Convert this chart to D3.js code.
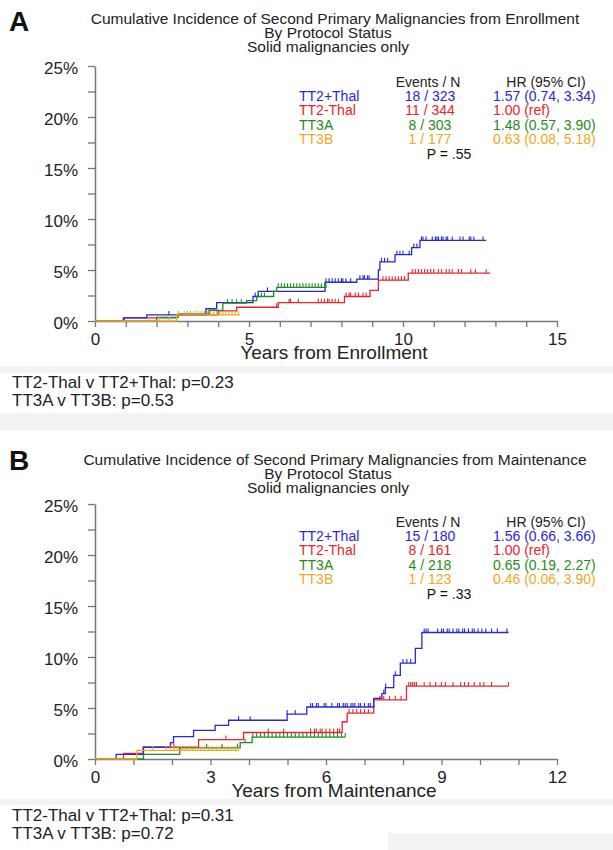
<!DOCTYPE html>
<html>
<head>
<meta charset="utf-8">
<script src="https://cdn.jsdelivr.net/npm/d3@7"></script>
<style>
  body { margin: 0; background: #fff; }
  svg { display: block; font-family: "Liberation Sans", Arial, sans-serif; }
</style>
</head>
<body>
<svg id="chart" width="613" height="850"></svg>
<script>
// groups + colours (same for both panels)
const groups = ['TT2+Thal', 'TT2-Thal', 'TT3A', 'TT3B'];
const colors = ['#2626dc', '#e8242c', '#1f8a22', '#f5a623'];
const yTicks = [0, 2.5, 5, 7.5, 10, 12.5, 15, 17.5, 20, 22.5, 25];
const yLabels = [0, 5, 10, 15, 20, 25];

// ---- panel A : from enrollment ----
const enrollTitle = ['Cumulative Incidence of Second Primary Malignancies from Enrollment', 'By Protocol Status', 'Solid malignancies only'];
const enrollEvents = ['18 / 323', '11 / 344', '8 / 303', '1 / 177'];
const enrollHR = ['1.57 (0.74, 3.34)', '1.00 (ref)', '1.48 (0.57, 3.90)', '0.63 (0.08, 5.18)'];
const enrollP = 'P = .55';
const enrollXTicks = [0, 1, 2, 3, 4, 5, 6, 7, 8, 9, 10, 11, 12, 13, 14, 15];
const enrollXLabels = [0, 5, 10, 15];
const enrollNotes = ['TT2-Thal v TT2+Thal: p=0.23', 'TT3A v TT3B: p=0.53'];

// steps: [years, cumulative %]
const enrollBlue = [[0, 0], [0.92, 0.3], [1.68, 0.6], [3.6, 1.2], [3.95, 1.8], [5.13, 2.4], [5.3, 2.9], [7.47, 3.8], [8.5, 4.1], [9.2, 5.0], [9.25, 5.8], [9.74, 6.5], [10.28, 7.2], [10.55, 7.9]];
const enrollRed = [[0, 0], [0.95, 0.3], [2.65, 0.6], [4.0, 1.0], [4.6, 1.35], [5.95, 1.8], [8.1, 2.4], [8.93, 3.0], [9.2, 4.0], [10.17, 4.7]];
const enrollGreen = [[0, 0], [2.0, 0.35], [2.7, 0.7], [3.7, 1.05], [4.15, 1.75], [4.92, 2.0], [5.25, 2.4], [5.8, 2.9], [5.9, 3.3]];
const enrollOrange = [[0, 0], [2.65, 0.6]];
const enrollEnd = [12.7, 12.83, 7.52, 4.7];

// censor marks (years)
const enrollBlueCens = [2.4, 5.2, 5.6, 7.5, 7.6, 7.7, 7.8, 7.9, 8.0, 8.05, 8.15, 8.3, 8.6, 8.7, 8.75, 8.85, 8.9, 9.3, 9.4, 9.5, 9.8, 9.9, 10.0, 10.2, 10.35, 10.45, 10.6, 10.65, 10.75, 10.95, 11.05, 11.1, 11.15, 11.25, 11.3, 11.4, 11.45, 11.6, 11.85, 11.95, 12.15, 12.2, 12.3, 12.6];
const enrollRedCens = [5.9, 6.3, 6.35, 6.6, 7.25, 7.35, 7.45, 7.55, 7.6, 7.7, 7.8, 7.9, 8.15, 8.25, 8.3, 8.45, 8.55, 8.7, 8.8, 9.35, 9.45, 9.55, 9.65, 9.75, 9.85, 9.95, 10.05, 10.3, 10.4, 10.5, 10.6, 10.7, 10.8, 10.9, 11.0, 11.15, 11.25, 11.4, 11.5, 11.6, 11.8, 11.9, 12.2, 12.35, 12.7];
const enrollGreenCens = [4.3, 4.45, 4.6, 4.75, 5.4, 5.5, 5.95, 6.05, 6.15, 6.25, 6.35, 6.45, 6.55, 6.65, 6.75, 6.85, 6.95, 7.05, 7.15, 7.25, 7.35, 7.45, 7.5];
const enrollOrangeCens = [2.1, 2.4, 2.7, 2.9, 3.0, 3.1, 3.25, 3.35, 3.45, 3.55, 3.65, 3.75, 3.85, 3.95, 4.05, 4.15, 4.25, 4.35, 4.45, 4.55, 4.65];

// ---- panel B : from maintenance ----
const maintTitle = ['Cumulative Incidence of Second Primary Malignancies from Maintenance', 'By Protocol Status', 'Solid malignancies only'];
const maintEvents = ['15 / 180', '8 / 161', '4 / 218', '1 / 123'];
const maintHR = ['1.56 (0.66, 3.66)', '1.00 (ref)', '0.65 (0.19, 2.27)', '0.46 (0.06, 3.90)'];
const maintP = 'P = .33';
const maintXTicks = [0, 1, 2, 3, 4, 5, 6, 7, 8, 9, 10, 11, 12];
const maintXLabels = [0, 3, 6, 9, 12];
const maintNotes = ['TT2-Thal v TT2+Thal: p=0.31', 'TT3A v TT3B: p=0.72'];

const maintBlue = [[0, 0], [0.55, 0.45], [1.26, 1.15], [1.96, 1.6], [2.04, 2.2], [2.56, 2.8], [3.12, 3.3], [3.47, 3.8], [4.99, 4.4], [5.5, 5.1], [7.24, 5.95], [7.45, 6.4], [7.54, 7.0], [7.76, 8.2], [7.93, 9.4], [8.32, 10.85], [8.49, 12.4]];
const maintRed = [[0, 0], [0.74, 0.55], [1.25, 1.15], [2.69, 1.9], [3.86, 2.6], [6.42, 3.65], [6.55, 4.5], [7.24, 5.8], [8.09, 7.15]];
const maintGreen = [[0, 0], [1.26, 0.45], [2.2, 1.1], [3.77, 1.6], [4.08, 2.15]];
const maintOrange = [[0, 0], [1.09, 0.85]];
const maintEnd = [10.74, 10.74, 6.5, 3.73];

const maintBlueCens = [3.73, 4.03, 4.99, 5.2, 5.6, 5.65, 5.75, 5.8, 5.95, 6.0, 6.15, 6.3, 6.35, 6.45, 6.5, 6.55, 6.65, 6.7, 6.75, 6.85, 6.9, 7.0, 7.1, 7.15, 7.5, 7.55, 7.8, 8.0, 8.1, 8.2, 8.55, 8.6, 8.65, 8.9, 9.0, 9.05, 9.15, 9.2, 9.3, 9.4, 9.45, 9.55, 9.6, 9.7, 9.8, 9.85, 9.95, 10.05, 10.15, 10.3, 10.45, 10.7];
const maintRedCens = [2.05, 3.4, 4.5, 4.9, 5.6, 5.7, 5.75, 5.85, 5.9, 6.0, 6.1, 6.2, 6.3, 6.35, 6.6, 6.7, 6.8, 6.9, 7.0, 7.1, 7.4, 7.5, 7.65, 7.8, 7.95, 8.15, 8.2, 8.25, 8.3, 8.35, 8.55, 8.7, 8.85, 9.0, 9.1, 9.3, 9.5, 9.6, 9.7, 9.85, 10.0, 10.1, 10.3, 10.74];
const maintGreenCens = [2.9, 3.3, 3.7, 3.9, 4.1, 4.2, 4.3, 4.4, 4.5, 4.6, 4.7, 4.8, 4.9, 5.0, 5.1, 5.2, 5.3, 5.4, 5.5, 5.6, 5.7, 5.8, 5.9, 6.0, 6.1, 6.2, 6.3, 6.4, 6.5];
const maintOrangeCens = [1.5, 1.85, 1.95, 2.05, 2.15, 2.25, 2.35, 2.45, 2.55, 2.65, 2.75, 2.85, 2.95, 3.05, 3.15, 3.25, 3.35, 3.45, 3.55, 3.65, 3.73];

const svg = d3.select('#chart');

// faint grey scan bands from the original figure
const bands = [[0, 366, 613, 7], [0, 413, 613, 17], [0, 799, 613, 6], [388, 833, 225, 17]];
svg.selectAll('rect.band').data(bands).join('rect')
  .attr('class', 'band')
  .attr('x', d => d[0]).attr('y', d => d[1])
  .attr('width', d => d[2]).attr('height', d => d[3])
  .attr('fill', '#f3f3f3');

function levelAt(steps, t) {
  let v = 0;
  steps.forEach(s => { if (s[0] <= t) v = s[1]; });
  return v;
}

function drawPanel(p) {
  const x = d3.scaleLinear().domain([0, p.xMax]).range([95, 557]);
  const y = d3.scaleLinear().domain([0, 25]).range([p.y0, p.y0 - 255]);
  const g = svg.append('g');

  g.append('text')
    .attr('x', 9).attr('y', p.letterY)
    .attr('font-size', 28).attr('font-weight', 'bold').attr('fill', '#111')
    .text(p.letter);

  p.title.forEach((t, i) => {
    g.append('text')
      .attr('x', i === 0 ? 335 : 328)
      .attr('y', p.titleY + i * 14)
      .attr('text-anchor', 'middle')
      .attr('font-size', 15.5).attr('fill', '#222')
      .text(t);
  });

  // y axis
  const yAxis = g.append('g')
    .attr('transform', 'translate(95,0)')
    .call(d3.axisLeft(y).tickValues(yTicks).tickSize(7).tickSizeOuter(0).tickPadding(10)
      .tickFormat(d => yLabels.includes(d) ? d + '%' : ''));
  // x axis
  const xAxis = g.append('g')
    .attr('transform', `translate(0,${p.y0})`)
    .call(d3.axisBottom(x).tickValues(p.xTicks).tickSize(6).tickSizeOuter(0).tickPadding(6)
      .tickFormat(d => p.xLabels.includes(d) ? d : ''));

  [yAxis, xAxis].forEach(a => {
    a.select('.domain').attr('stroke', '#777').attr('stroke-width', 1.5);
    a.selectAll('.tick line').attr('stroke', '#777').attr('stroke-width', 1.3);
    a.selectAll('.tick text').attr('font-size', 17).attr('fill', '#222')
      .attr('font-family', '"Liberation Sans", Arial, sans-serif');
  });
  yAxis.selectAll('.tick text').attr('dy', '0.42em');

  g.append('text')
    .attr('x', 334).attr('y', p.y0 + 38)
    .attr('text-anchor', 'middle')
    .attr('font-size', 19).attr('fill', '#222')
    .text(p.xTitle);

  // curves: red, blue, green, orange (orange on top)
  const order = [1, 0, 2, 3];
  const line = d3.line().x(d => x(d[0])).y(d => y(d[1])).curve(d3.curveStepAfter);
  order.forEach(i => {
    const steps = p.steps[i];
    const pts = steps.concat([[p.ends[i], steps[steps.length - 1][1]]]);
    g.append('path')
      .attr('d', line(pts))
      .attr('fill', 'none')
      .attr('stroke', colors[i])
      .attr('stroke-width', 1.3);
    g.append('g').selectAll('line')
      .data(p.cens[i])
      .join('line')
      .attr('x1', d => x(d)).attr('x2', d => x(d))
      .attr('y1', d => y(levelAt(steps, d)))
      .attr('y2', d => y(levelAt(steps, d)) - 4)
      .attr('stroke', colors[i])
      .attr('stroke-width', 1.1);
  });

  // legend table
  const lt = p.legendY;
  g.append('text').attr('x', 428).attr('y', lt).attr('text-anchor', 'middle')
    .attr('font-size', 14).attr('fill', '#222').text('Events / N');
  g.append('text').attr('x', 546).attr('y', lt).attr('text-anchor', 'middle')
    .attr('font-size', 14).attr('fill', '#222').text('HR (95% CI)');
  groups.forEach((name, i) => {
    const yy = lt + 14.2 * (i + 1);
    g.append('text').attr('x', 299).attr('y', yy)
      .attr('font-size', 14).attr('fill', colors[i]).text(name);
    g.append('text').attr('x', 430).attr('y', yy).attr('text-anchor', 'middle')
      .attr('font-size', 14).attr('fill', colors[i]).text(p.events[i]);
    g.append('text').attr('x', 493).attr('y', yy)
      .attr('font-size', 14).attr('fill', colors[i]).text(p.hr[i]);
  });
  g.append('text').attr('x', 449).attr('y', lt + 14.2 * 5 + 1).attr('text-anchor', 'middle')
    .attr('font-size', 14).attr('fill', '#111').text(p.pval);

  // notes under the plot
  p.notes.forEach((t, i) => {
    g.append('text').attr('x', 12).attr('y', p.notesY + i * 18.3)
      .attr('font-size', 17).attr('fill', '#222').text(t);
  });
}

drawPanel({
  letter: 'A', letterY: 31, title: enrollTitle, titleY: 24,
  y0: 321, xMax: 15, xTicks: enrollXTicks, xLabels: enrollXLabels, xTitle: 'Years from Enrollment',
  steps: [enrollBlue, enrollRed, enrollGreen, enrollOrange], ends: enrollEnd,
  cens: [enrollBlueCens, enrollRedCens, enrollGreenCens, enrollOrangeCens],
  legendY: 87, events: enrollEvents, hr: enrollHR, pval: enrollP,
  notes: enrollNotes, notesY: 388
});

drawPanel({
  letter: 'B', letterY: 470, title: maintTitle, titleY: 465,
  y0: 759, xMax: 12, xTicks: maintXTicks, xLabels: maintXLabels, xTitle: 'Years from Maintenance',
  steps: [maintBlue, maintRed, maintGreen, maintOrange], ends: maintEnd,
  cens: [maintBlueCens, maintRedCens, maintGreenCens, maintOrangeCens],
  legendY: 527, events: maintEvents, hr: maintHR, pval: maintP,
  notes: maintNotes, notesY: 821
});
</script>
</body>
</html>
